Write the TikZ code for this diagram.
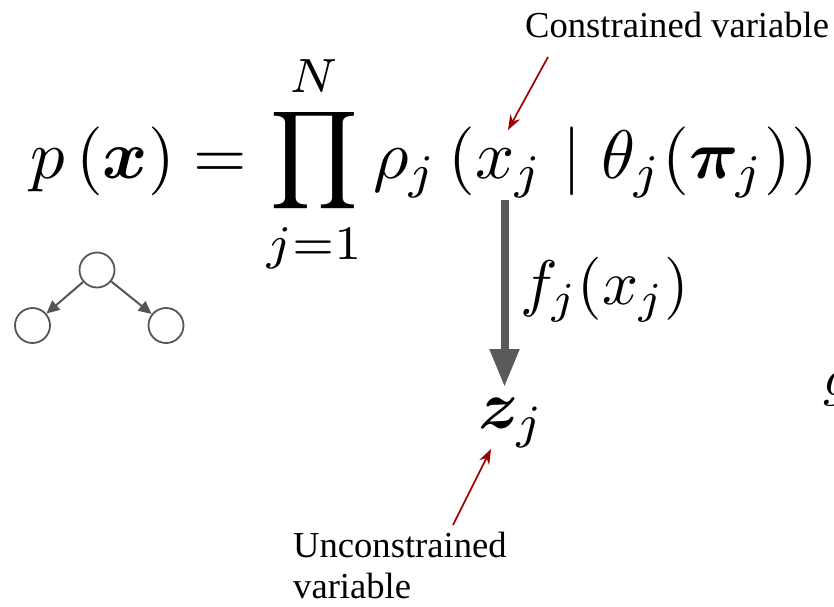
\documentclass[tikz,border=0pt]{standalone}
\usepackage{amsmath}
\usepackage{bm}
\usepackage{graphicx}
\usepackage{fontspec}
\newfontfamily\tnr{Liberation Serif}
\usetikzlibrary{arrows.meta}
\definecolor{darkred}{HTML}{A00000}
\definecolor{arrowgrey}{HTML}{5A5A5A}
\definecolor{nodegrey}{HTML}{555555}
\begin{document}
\begin{tikzpicture}[x=1pt,y=-1pt,
  mth/.style={inner sep=0pt},
  lbl/.style={inner sep=0pt, font=\tnr\fontsize{36.6}{41}\selectfont, align=left},
  redarrow/.style={draw=darkred, line width=1.7pt, -{Stealth[length=15pt,width=11pt]}},
  flow/.style={draw=arrowgrey, line width=8pt, -{Triangle[length=38pt,width=28pt]}},
  gnode/.style={draw=nodegrey, line width=1.8pt, circle, minimum size=35pt, inner sep=0pt},
  gedge/.style={draw=nodegrey, line width=2pt, -{Triangle[length=13pt,width=12pt]}}
]
\useasboundingbox (0,0) rectangle (834,606);
% main equation
\node[mth, anchor=base west] (eq) at (30,178)
  {\scalebox{6.87}{$\displaystyle p\left(\bm{x}\right) = \prod_{j=1}^{N} \rho_j\left(x_j \mid \theta_j(\bm{\pi}_j)\right)$}};
% labels
\node[lbl, anchor=base west] (cv) at (525,37) {Constrained variable};
\node[lbl, anchor=base west] (ucv) at (293,598) {Unconstrained\\variable};
% transform
\node[mth, anchor=base west] (fj) at (520,304) {\scalebox{6.3}{$f_j(x_j)$}};
\node[mth, anchor=base west] (zj) at (478,428) {\scalebox{6.8}{$\bm{z}_j$}};
% cut glyph at right edge
\node[mth, anchor=base west] (cut) at (823,395) {\scalebox{5.4}{$g$}};
% arrow coordinates
\coordinate (xjbot) at (504.5,200);
\coordinate (ztop) at (504.5,387);
\coordinate (cvtail) at (548,57);
\coordinate (xjtop) at (508,130);
\coordinate (ucvtail) at (453,525);
\coordinate (zbot) at (491,449);
\draw[flow] (xjbot) -- (ztop);
\draw[redarrow] (cvtail) -- (xjtop);
\draw[redarrow] (ucvtail) -- (zbot);
% small graph
\node[gnode] (g1) at (97,270) {};
\node[gnode] (g2) at (32.5,325.5) {};
\node[gnode] (g3) at (166,325.5) {};
\draw[gedge] (g1) -- (g2);
\draw[gedge] (g1) -- (g3);
\end{tikzpicture}
\end{document}
